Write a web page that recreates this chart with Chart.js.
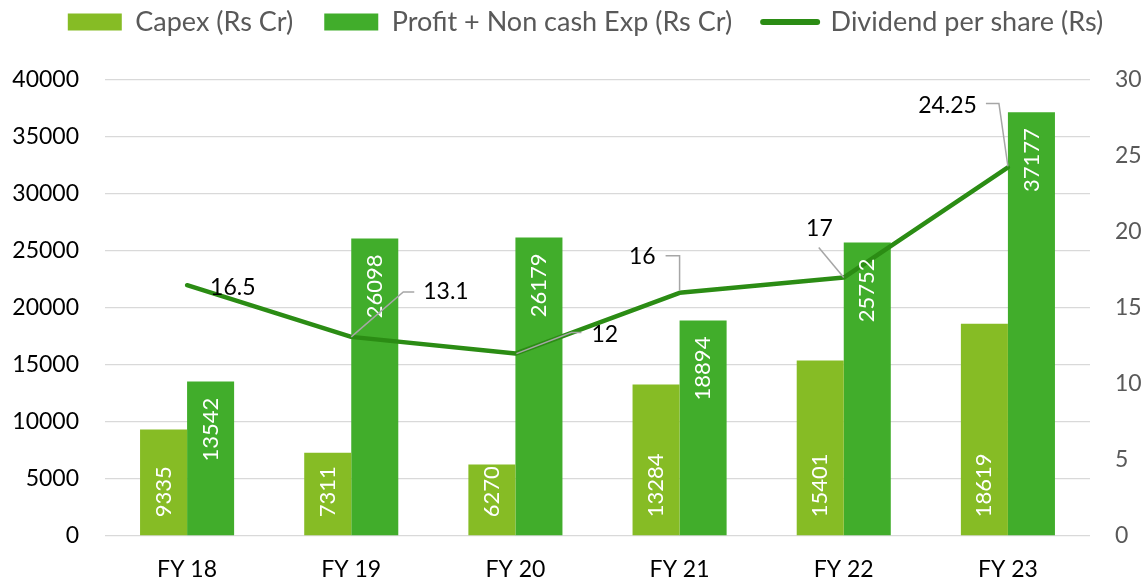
<!DOCTYPE html>
<html><head><meta charset="utf-8">
<script src="https://cdn.jsdelivr.net/npm/chart.js@4.4.0/dist/chart.umd.min.js"></script>
<style>html,body{margin:0;padding:0;background:#fff}#wrap{width:1143px;height:581px}</style>
</head><body><div id="wrap"><canvas id="c" width="1143" height="581"></canvas></div>
<script>
const categories = ['FY 18', 'FY 19', 'FY 20', 'FY 21', 'FY 22', 'FY 23'];
const capex = [9335, 7311, 6270, 13284, 15401, 18619];
const profitNonCash = [13542, 26098, 26179, 18894, 25752, 37177];
const dividend = [16.5, 13.1, 12, 16, 17, 24.25];
const leftTickValues = [0, 5000, 10000, 15000, 20000, 25000, 30000, 35000, 40000];
const rightTickValues = [0, 5, 10, 15, 20, 25, 30];
const seriesNames = ['Capex (Rs Cr)', 'Profit + Non cash Exp (Rs Cr)', 'Dividend per share (Rs)'];

// label placement for dividend values, relative to each point (style, not data)
const dividendLabelLayout = [
  { dx: 23, dy: 2, align: 'left', leader: [] },
  { dx: 72, dy: -45, align: 'left', leader: [[0, 0], [52, -45], [63, -45]] },
  { dx: 76, dy: -19, align: 'left', leader: [[1, 0], [56, -21], [66, -21]] },
  { dx: -24, dy: -36, align: 'right', leader: [[0, -2], [0, -37], [-14, -37]] },
  { dx: -11, dy: -49, align: 'right', leader: [[0, 0], [-25, -30]] },
  { dx: -31, dy: -62, align: 'right', leader: [[0, -1], [-9, -64], [-22, -64]] }
];

const FONT = 'Lato';
const COL_CAPEX = '#86BC25';
const COL_PROFIT = '#41AD2B';
const COL_LINE = '#2B8C14';

const LEG_PAD = 31, LEG_FONT = 27, LEG_CENTER_Y = 22, LEG_SHIFT_X = 14;

const layoutPlugin = {
  id: 'layoutTweak',
  beforeLayout(chart) {
    const lg = chart.legend;
    if (lg && !lg._patched) {
      const f = lg.fit;
      lg.fit = function () { f.call(this); this.height = 80; };
      lg._patched = true;
    }
  },
  afterLayout(chart) {
    const lg = chart.legend;
    const top = LEG_CENTER_Y - LEG_PAD - LEG_FONT / 2;
    lg.top = top; lg.bottom = top + 80;
    lg.left += LEG_SHIFT_X; lg.right += LEG_SHIFT_X;
  }
};

const labelPlugin = {
  id: 'valueLabels',
  afterDatasetsDraw(chart) {
    const ctx = chart.ctx;
    [0, 1].forEach(di => {
      const meta = chart.getDatasetMeta(di);
      const vals = chart.data.datasets[di].data;
      meta.data.forEach((bar, i) => {
        ctx.save();
        ctx.translate(bar.x, di === 0 ? bar.base - 18 : bar.y + 16);
        ctx.rotate(-Math.PI / 2);
        ctx.font = '22px ' + FONT;
        ctx.fillStyle = '#ffffff';
        ctx.textBaseline = 'middle';
        ctx.textAlign = di === 0 ? 'left' : 'right';
        ctx.fillText(String(vals[i]), 0, 0);
        ctx.restore();
      });
    });
    const meta = chart.getDatasetMeta(2);
    const vals = chart.data.datasets[2].data;
    meta.data.forEach((pt, i) => {
      const L = dividendLabelLayout[i];
      ctx.save();
      if (L.leader.length > 1) {
        ctx.beginPath();
        ctx.strokeStyle = '#A6A6A6';
        ctx.lineWidth = 1.5;
        L.leader.forEach((p, k) => {
          const x = pt.x + p[0], y = pt.y + p[1];
          if (k === 0) ctx.moveTo(x, y); else ctx.lineTo(x, y);
        });
        ctx.stroke();
      }
      ctx.font = '23px ' + FONT;
      ctx.fillStyle = '#000000';
      ctx.textBaseline = 'middle';
      ctx.textAlign = L.align;
      ctx.fillText(String(vals[i]), pt.x + L.dx, pt.y + L.dy);
      ctx.restore();
    });
  }
};

new Chart(document.getElementById('c'), {
  type: 'bar',
  data: {
    labels: categories,
    datasets: [
      { label: seriesNames[0], data: capex, backgroundColor: COL_CAPEX, yAxisID: 'y', order: 2,
        categoryPercentage: 0.573, barPercentage: 1.0 },
      { label: seriesNames[1], data: profitNonCash, backgroundColor: COL_PROFIT, yAxisID: 'y', order: 2,
        categoryPercentage: 0.573, barPercentage: 1.0 },
      { type: 'line', label: seriesNames[2], data: dividend, borderColor: COL_LINE, backgroundColor: COL_LINE,
        borderWidth: 4.5, pointRadius: 0, tension: 0, yAxisID: 'y1', order: 1,
        borderCapStyle: 'round', borderJoinStyle: 'round' }
    ]
  },
  options: {
    responsive: false,
    animation: false,
    layout: { padding: 0 },
    plugins: {
      tooltip: { enabled: false },
      legend: {
        position: 'top',
        labels: {
          usePointStyle: true,
          pointStyleWidth: 54,
          boxHeight: 17,
          padding: LEG_PAD,
          color: '#595959',
          font: { family: FONT, size: LEG_FONT },
          generateLabels(chart) {
            return chart.data.datasets.map((ds, i) => {
              const isLine = ds.type === 'line';
              return {
                text: ds.label,
                datasetIndex: i,
                fillStyle: isLine ? 'rgba(0,0,0,0)' : ds.backgroundColor,
                strokeStyle: isLine ? ds.borderColor : 'rgba(0,0,0,0)',
                lineWidth: isLine ? 6 : 0,
                lineCap: 'round',
                pointStyle: isLine ? 'line' : 'rect',
                fontColor: '#595959',
                hidden: false
              };
            });
          }
        }
      }
    },
    scales: {
      x: {
        grid: { display: false, drawTicks: false },
        border: { display: false },
        ticks: { color: '#000000', padding: 20, font: { family: FONT, size: 23 } },
        afterFit(s) { s.height = 45; }
      },
      y: {
        position: 'left', min: 0, max: 40000,
        afterBuildTicks(s) { s.ticks = leftTickValues.map(v => ({ value: v })); },
        ticks: { color: '#000000', padding: 26, font: { family: FONT, size: 23 },
          callback: v => String(v) },
        grid: { color: '#D9D9D9', lineWidth: 1.3, drawTicks: false },
        border: { display: false },
        afterFit(s) { s.width = 105; }
      },
      y1: {
        position: 'right', min: 0, max: 30,
        afterBuildTicks(s) { s.ticks = rightTickValues.map(v => ({ value: v })); },
        ticks: { color: '#595959', padding: 25, font: { family: FONT, size: 23 },
          callback: v => String(v) },
        grid: { display: false, drawTicks: false },
        border: { display: false },
        afterFit(s) { s.width = 53; }
      }
    }
  },
  plugins: [layoutPlugin, labelPlugin]
});
</script>
</body></html>
